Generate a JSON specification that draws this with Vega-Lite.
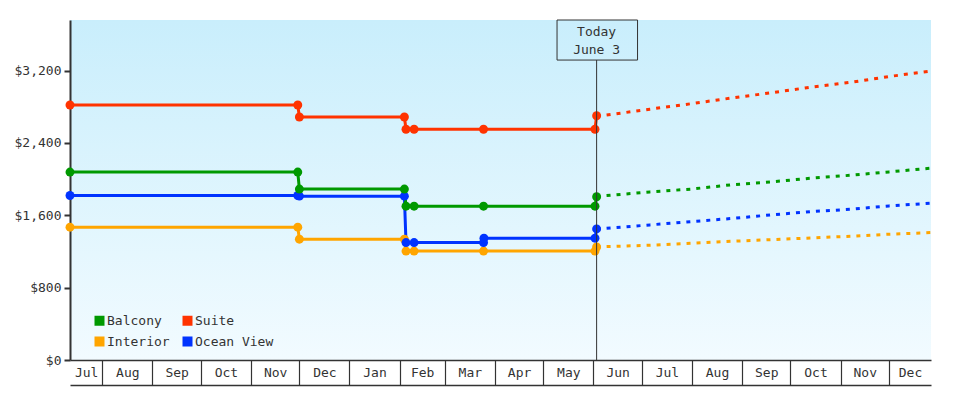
{
  "$schema": "https://vega.github.io/schema/vega-lite/v6.json",
  "width": 861,
  "height": 340,
  "autosize": {"type": "none"},
  "padding": {"left": 70, "top": 20, "right": 49, "bottom": 40},
  "background": "white",
  "config": {
    "view": {
      "stroke": null,
      "fill": {"gradient": "linear", "x1": 0, "y1": 0, "x2": 0, "y2": 1,
        "stops": [{"offset": 0, "color": "#c9eefc"}, {"offset": 1, "color": "#f2fbff"}]}
    },
    "font": "DejaVu Sans Mono",
    "axis": {"labelFont": "DejaVu Sans Mono", "labelFontSize": 13, "labelColor": "#333333", "domainColor": "#333333", "tickColor": "#333333", "grid": false, "title": null},
    "legend": {"labelFont": "DejaVu Sans Mono", "labelFontSize": 13, "labelColor": "#333333"}
  },
  "datasets": {
    "prices": [
      {"date": "2022-07-12", "type": "Interior", "price": 1469, "kind": "actual"},
      {"date": "2022-11-30", "type": "Interior", "price": 1469, "kind": "actual"},
      {"date": "2022-12-01", "type": "Interior", "price": 1336, "kind": "actual"},
      {"date": "2023-02-04", "type": "Interior", "price": 1336, "kind": "actual"},
      {"date": "2023-02-05", "type": "Interior", "price": 1205, "kind": "actual"},
      {"date": "2023-02-10", "type": "Interior", "price": 1205, "kind": "actual"},
      {"date": "2023-03-25", "type": "Interior", "price": 1205, "kind": "actual"},
      {"date": "2023-06-02", "type": "Interior", "price": 1205, "kind": "actual"},
      {"date": "2023-06-03", "type": "Interior", "price": 1250, "kind": "actual"},
      {"date": "2023-06-03", "type": "Interior", "price": 1250, "kind": "forecast"},
      {"date": "2023-06-09", "type": "Interior", "price": 1254, "kind": "forecast"},
      {"date": "2023-07-06", "type": "Interior", "price": 1269, "kind": "forecast"},
      {"date": "2023-07-31", "type": "Interior", "price": 1291, "kind": "forecast"},
      {"date": "2023-08-25", "type": "Interior", "price": 1313, "kind": "forecast"},
      {"date": "2023-09-19", "type": "Interior", "price": 1331, "kind": "forecast"},
      {"date": "2023-10-14", "type": "Interior", "price": 1350, "kind": "forecast"},
      {"date": "2023-11-08", "type": "Interior", "price": 1369, "kind": "forecast"},
      {"date": "2023-12-01", "type": "Interior", "price": 1391, "kind": "forecast"},
      {"date": "2023-12-27", "type": "Interior", "price": 1409, "kind": "forecast"},

      {"date": "2022-07-12", "type": "Ocean View", "price": 1819, "kind": "actual"},
      {"date": "2022-11-30", "type": "Ocean View", "price": 1819, "kind": "actual"},
      {"date": "2022-12-01", "type": "Ocean View", "price": 1812, "kind": "actual"},
      {"date": "2023-02-04", "type": "Ocean View", "price": 1812, "kind": "actual"},
      {"date": "2023-02-05", "type": "Ocean View", "price": 1299, "kind": "actual"},
      {"date": "2023-02-10", "type": "Ocean View", "price": 1299, "kind": "actual"},
      {"date": "2023-03-25", "type": "Ocean View", "price": 1299, "kind": "actual"},
      {"date": "2023-03-25T06:00:00Z", "type": "Ocean View", "price": 1347, "kind": "actual"},
      {"date": "2023-06-02", "type": "Ocean View", "price": 1347, "kind": "actual"},
      {"date": "2023-06-03", "type": "Ocean View", "price": 1450, "kind": "actual"},
      {"date": "2023-06-03", "type": "Ocean View", "price": 1450, "kind": "forecast"},
      {"date": "2023-06-09", "type": "Ocean View", "price": 1457, "kind": "forecast"},
      {"date": "2023-07-06", "type": "Ocean View", "price": 1494, "kind": "forecast"},
      {"date": "2023-07-31", "type": "Ocean View", "price": 1530, "kind": "forecast"},
      {"date": "2023-08-25", "type": "Ocean View", "price": 1564, "kind": "forecast"},
      {"date": "2023-09-19", "type": "Ocean View", "price": 1605, "kind": "forecast"},
      {"date": "2023-10-14", "type": "Ocean View", "price": 1641, "kind": "forecast"},
      {"date": "2023-11-08", "type": "Ocean View", "price": 1668, "kind": "forecast"},
      {"date": "2023-12-01", "type": "Ocean View", "price": 1704, "kind": "forecast"},
      {"date": "2023-12-27", "type": "Ocean View", "price": 1734, "kind": "forecast"},

      {"date": "2022-07-12", "type": "Balcony", "price": 2078, "kind": "actual"},
      {"date": "2022-11-30", "type": "Balcony", "price": 2078, "kind": "actual"},
      {"date": "2022-12-01", "type": "Balcony", "price": 1890, "kind": "actual"},
      {"date": "2023-02-04", "type": "Balcony", "price": 1890, "kind": "actual"},
      {"date": "2023-02-05", "type": "Balcony", "price": 1701, "kind": "actual"},
      {"date": "2023-02-10", "type": "Balcony", "price": 1701, "kind": "actual"},
      {"date": "2023-03-25", "type": "Balcony", "price": 1701, "kind": "actual"},
      {"date": "2023-06-02", "type": "Balcony", "price": 1701, "kind": "actual"},
      {"date": "2023-06-03", "type": "Balcony", "price": 1805, "kind": "actual"},
      {"date": "2023-06-03", "type": "Balcony", "price": 1805, "kind": "forecast"},
      {"date": "2023-06-09", "type": "Balcony", "price": 1818, "kind": "forecast"},
      {"date": "2023-07-06", "type": "Balcony", "price": 1859, "kind": "forecast"},
      {"date": "2023-07-31", "type": "Balcony", "price": 1889, "kind": "forecast"},
      {"date": "2023-08-25", "type": "Balcony", "price": 1937, "kind": "forecast"},
      {"date": "2023-09-19", "type": "Balcony", "price": 1970, "kind": "forecast"},
      {"date": "2023-10-14", "type": "Balcony", "price": 2011, "kind": "forecast"},
      {"date": "2023-11-08", "type": "Balcony", "price": 2044, "kind": "forecast"},
      {"date": "2023-12-01", "type": "Balcony", "price": 2080, "kind": "forecast"},
      {"date": "2023-12-27", "type": "Balcony", "price": 2121, "kind": "forecast"},

      {"date": "2022-07-12", "type": "Suite", "price": 2820, "kind": "actual"},
      {"date": "2022-11-30", "type": "Suite", "price": 2820, "kind": "actual"},
      {"date": "2022-12-01", "type": "Suite", "price": 2687, "kind": "actual"},
      {"date": "2023-02-04", "type": "Suite", "price": 2687, "kind": "actual"},
      {"date": "2023-02-05", "type": "Suite", "price": 2552, "kind": "actual"},
      {"date": "2023-02-10", "type": "Suite", "price": 2552, "kind": "actual"},
      {"date": "2023-03-25", "type": "Suite", "price": 2552, "kind": "actual"},
      {"date": "2023-06-02", "type": "Suite", "price": 2552, "kind": "actual"},
      {"date": "2023-06-03", "type": "Suite", "price": 2701, "kind": "actual"},
      {"date": "2023-06-03", "type": "Suite", "price": 2701, "kind": "forecast"},
      {"date": "2023-06-09", "type": "Suite", "price": 2708, "kind": "forecast"},
      {"date": "2023-07-06", "type": "Suite", "price": 2774, "kind": "forecast"},
      {"date": "2023-07-31", "type": "Suite", "price": 2833, "kind": "forecast"},
      {"date": "2023-08-25", "type": "Suite", "price": 2896, "kind": "forecast"},
      {"date": "2023-09-19", "type": "Suite", "price": 2955, "kind": "forecast"},
      {"date": "2023-10-14", "type": "Suite", "price": 3018, "kind": "forecast"},
      {"date": "2023-11-08", "type": "Suite", "price": 3073, "kind": "forecast"},
      {"date": "2023-12-01", "type": "Suite", "price": 3135, "kind": "forecast"},
      {"date": "2023-12-27", "type": "Suite", "price": 3195, "kind": "forecast"}
    ],
    "today": [
      {"date": "2023-06-03", "start": "2023-05-09T12:00:00Z", "end": "2023-06-28T08:00:00Z", "low": 0, "boxBottom": 3317, "boxTop": 3760}
    ],
    "todayText": [
      {"date": "2023-06-03", "label": "Today", "price": 3630},
      {"date": "2023-06-03", "label": "June 3", "price": 3430}
    ]
  },
  "resolve": {"axis": {"x": "independent"}},
  "layer": [
    {
      "data": {"name": "prices"},
      "transform": [{"filter": "datum.kind === 'forecast'"}],
      "mark": {"type": "line", "strokeWidth": 3, "strokeDash": [4, 6], "strokeCap": "butt"},
      "encoding": {
        "x": {"field": "date", "type": "temporal",
          "scale": {"type": "utc", "domain": [{"year": 2022, "month": 7, "date": 12, "utc": true}, {"year": 2023, "month": 12, "date": 27, "utc": true}]},
          "axis": {
            "orient": "bottom",
            "values": [
              {"year": 2022, "month": 8, "date": 1, "utc": true},
              {"year": 2022, "month": 9, "date": 1, "utc": true},
              {"year": 2022, "month": 10, "date": 1, "utc": true},
              {"year": 2022, "month": 11, "date": 1, "utc": true},
              {"year": 2022, "month": 12, "date": 1, "utc": true},
              {"year": 2023, "month": 1, "date": 1, "utc": true},
              {"year": 2023, "month": 2, "date": 1, "utc": true},
              {"year": 2023, "month": 3, "date": 1, "utc": true},
              {"year": 2023, "month": 4, "date": 1, "utc": true},
              {"year": 2023, "month": 5, "date": 1, "utc": true},
              {"year": 2023, "month": 6, "date": 1, "utc": true},
              {"year": 2023, "month": 7, "date": 1, "utc": true},
              {"year": 2023, "month": 8, "date": 1, "utc": true},
              {"year": 2023, "month": 9, "date": 1, "utc": true},
              {"year": 2023, "month": 10, "date": 1, "utc": true},
              {"year": 2023, "month": 11, "date": 1, "utc": true},
              {"year": 2023, "month": 12, "date": 1, "utc": true}
            ],
            "labels": false, "ticks": true, "tickSize": 25, "tickWidth": 1.2,
            "domainWidth": 1.5, "grid": false, "title": null
          }
        },
        "y": {"field": "price", "type": "quantitative",
          "scale": {"domain": [0, 3760], "nice": false},
          "axis": {"values": [0, 800, 1600, 2400, 3200], "format": "$,.0f", "tickSize": 6, "tickWidth": 2, "domainWidth": 2, "labelPadding": 3, "title": null, "grid": false}
        },
        "color": {"field": "type", "type": "nominal",
          "scale": {"domain": ["Balcony", "Suite", "Interior", "Ocean View"], "range": ["#009900", "#ff3300", "#ffa500", "#0033ff"]}
        }
      }
    },
    {
      "data": {"name": "prices"},
      "transform": [{"filter": "datum.kind === 'actual'"}],
      "mark": {"type": "line", "strokeWidth": 3},
      "encoding": {
        "x": {"field": "date", "type": "temporal",
          "axis": {
            "orient": "bottom",
            "values": [
              {"year": 2022, "month": 7, "date": 22, "utc": true},
              {"year": 2022, "month": 8, "date": 16, "hours": 12, "utc": true},
              {"year": 2022, "month": 9, "date": 16, "utc": true},
              {"year": 2022, "month": 10, "date": 16, "hours": 12, "utc": true},
              {"year": 2022, "month": 11, "date": 16, "utc": true},
              {"year": 2022, "month": 12, "date": 16, "hours": 12, "utc": true},
              {"year": 2023, "month": 1, "date": 16, "hours": 12, "utc": true},
              {"year": 2023, "month": 2, "date": 15, "utc": true},
              {"year": 2023, "month": 3, "date": 16, "hours": 12, "utc": true},
              {"year": 2023, "month": 4, "date": 16, "utc": true},
              {"year": 2023, "month": 5, "date": 16, "hours": 12, "utc": true},
              {"year": 2023, "month": 6, "date": 16, "utc": true},
              {"year": 2023, "month": 7, "date": 16, "hours": 12, "utc": true},
              {"year": 2023, "month": 8, "date": 16, "hours": 12, "utc": true},
              {"year": 2023, "month": 9, "date": 16, "utc": true},
              {"year": 2023, "month": 10, "date": 16, "hours": 12, "utc": true},
              {"year": 2023, "month": 11, "date": 16, "utc": true},
              {"year": 2023, "month": 12, "date": 14, "utc": true}
            ],
            "format": "%b", "ticks": false, "tickSize": 0, "labelPadding": -12.5, "labelBaseline": "middle",
            "offset": 25, "domainWidth": 1.5, "labelOverlap": false, "labelFlush": false, "labelBound": false,
            "grid": false, "title": null
          }
        },
        "y": {"field": "price", "type": "quantitative"},
        "color": {"field": "type", "type": "nominal"}
      }
    },
    {
      "data": {"name": "prices"},
      "transform": [{"filter": "datum.kind === 'actual'"}],
      "mark": {"type": "point", "filled": true, "shape": "circle", "size": 80, "opacity": 1},
      "encoding": {
        "x": {"field": "date", "type": "temporal", "axis": null},
        "y": {"field": "price", "type": "quantitative"},
        "color": {"field": "type", "type": "nominal",
          "legend": {"orient": "none", "legendX": 23, "legendY": 294, "columns": 2, "direction": "horizontal", "title": null,
            "symbolType": "square", "symbolSize": 100, "symbolStrokeWidth": 0, "columnPadding": 11, "rowPadding": 7,
            "labelOffset": 1, "padding": 0}
        }
      }
    },
    {
      "data": {"name": "today"},
      "mark": {"type": "rule", "color": "#333333", "strokeWidth": 1},
      "encoding": {
        "x": {"field": "date", "type": "temporal", "axis": null},
        "y": {"field": "low", "type": "quantitative"},
        "y2": {"field": "boxBottom"}
      }
    },
    {
      "data": {"name": "today"},
      "mark": {"type": "rect", "fill": null, "stroke": "#333333", "strokeWidth": 1},
      "encoding": {
        "x": {"field": "start", "type": "temporal", "axis": null},
        "x2": {"field": "end"},
        "y": {"field": "boxTop", "type": "quantitative"},
        "y2": {"field": "boxBottom"}
      }
    },
    {
      "data": {"name": "todayText"},
      "mark": {"type": "text", "font": "DejaVu Sans Mono", "fontSize": 13, "color": "#333333", "align": "center", "baseline": "middle"},
      "encoding": {
        "x": {"field": "date", "type": "temporal", "axis": null},
        "y": {"field": "price", "type": "quantitative"},
        "text": {"field": "label"}
      }
    }
  ]
}
